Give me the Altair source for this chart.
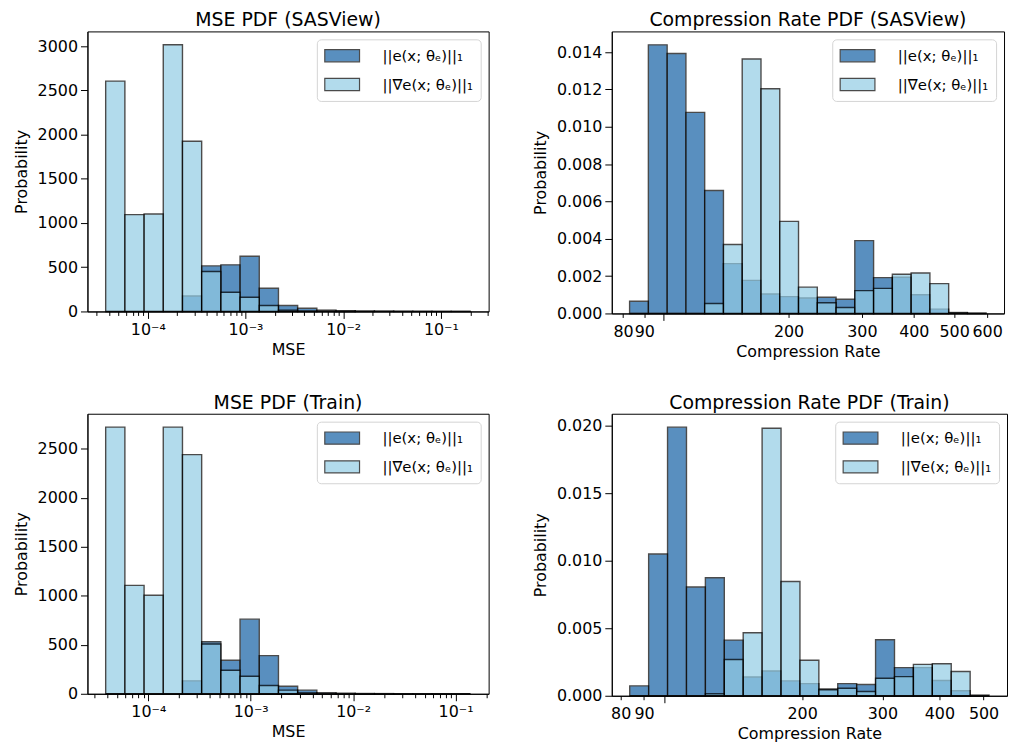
import altair as alt
import numpy as np
import pandas as pd

LAB_E = "||e(x; θₑ)||₁"
LAB_G = "||∇e(x; θₑ)||₁"
DARK = "#1460a5"
LIGHT = "#92cce5"
FONT = "DejaVu Sans"

# ---- data (19 log-spaced bins per panel) ----
# log10 of the first and last bin edge
mse_sas_range = (-4.431, -0.698)
mse_sas_e = [0, 0, 0, 0, 175, 515, 527, 624, 262, 67, 37, 15, 10, 5, 4, 3, 2, 1, 1]
mse_sas_g = [2604, 1095, 1102, 3015, 1924, 452, 217, 161, 67, 15, 6, 3, 2, 1, 1, 0, 0, 0, 0]

cr_sas_range = (1.919, 2.776)
cr_sas_e = [0.00065, 0.01439, 0.01393, 0.01077, 0.00659, 0.00267, 0.00177, 0.00104, 0.0009,
            0.00083, 0.00087, 0.00076, 0.0039, 0.00192, 0.00194, 0.001, 0.00023, 0.00005, 0.00002]
cr_sas_g = [0, 0, 0, 0, 0.00053, 0.00369, 0.01363, 0.01204, 0.00493, 0.00141, 0.00057, 0.00032,
            0.00122, 0.00134, 0.0021, 0.00217, 0.0016, 0.00003, 0]

mse_tr_range = (-4.416, -0.855)
mse_tr_e = [0, 0, 0, 0, 132, 531, 342, 761, 389, 77, 37, 10, 6, 3, 2, 1, 1, 1, 0]
mse_tr_g = [2720, 1106, 1005, 2720, 2439, 507, 240, 179, 84, 37, 10, 4, 2, 1, 0, 0, 0, 0, 0]

cr_tr_range = (1.923, 2.711)
cr_tr_e = [0.00073, 0.01049, 0.01988, 0.00805, 0.00873, 0.00412, 0.00139, 0.00183, 0.0011,
           0.0009, 0.0005, 0.0009, 0.00083, 0.00415, 0.00208, 0.00208, 0.00113, 0.00037, 0.00005]
cr_tr_g = [0, 0, 0, 0, 0.00015, 0.00268, 0.00466, 0.0198, 0.00846, 0.00263, 0.00045, 0.00056,
           0.00032, 0.0013, 0.00142, 0.00232, 0.00237, 0.0018, 0]

# ---- tick definitions ----
mse_major = [1e-4, 1e-3, 1e-2, 1e-1]
mse_major_labels = ["10⁻⁴", "10⁻³", "10⁻²", "10⁻¹"]
mse_minor = [m * 10.0 ** k for k in range(-5, 0) for m in range(2, 10)]

cr_major = [100]
cr_minor_sas = [80, 90, 200, 300, 400, 500, 600]
cr_minor_tr = [80, 90, 200, 300, 400, 500]

mse_sas_yticks = [0, 500, 1000, 1500, 2000, 2500, 3000]
mse_tr_yticks = [0, 500, 1000, 1500, 2000, 2500]
cr_sas_yticks = [0, 0.002, 0.004, 0.006, 0.008, 0.010, 0.012, 0.014]
cr_tr_yticks = [0, 0.005, 0.010, 0.015, 0.020]

# wide legend patch: path spans 4 x 1.4 units, drawn with sqrt(size) = 17.5 px per 2 units
LEGEND_PATH = "M-2,-0.7L2,-0.7L2,0.7L-2,0.7Z"


def label_expr(values, labels):
    expr = "''"
    for v, lab in zip(values[::-1], labels[::-1]):
        expr = f"abs(log(datum.value)/LN10 - ({np.log10(v):.4f})) < 0.01 ? '{lab}' : " + expr
    return expr


def panel(title, rng, e_vals, g_vals, yticks, yfmt, xtitle, major, major_labels,
          minor, minor_labeled, width, height):
    lo, hi = rng
    n = len(e_vals)
    edges = np.logspace(lo, hi, n + 1)
    rows = []
    for lab, vals in ((LAB_E, e_vals), (LAB_G, g_vals)):
        for i, v in enumerate(vals):
            rows.append({"x0": edges[i], "x1": edges[i + 1], "y": v, "series": lab})
    df = pd.DataFrame(rows)
    span = hi - lo
    xdom = [10 ** (lo - 0.05 * span), 10 ** (hi + 0.05 * span)]
    ymax = max(max(e_vals), max(g_vals)) * 1.05
    dlo, dhi = xdom
    minor_in = [m for m in minor if dlo <= m <= dhi]

    xscale = alt.Scale(type="log", domain=xdom, nice=False)
    yenc = alt.Y("y:Q", scale=alt.Scale(domain=[0, ymax], nice=False, zero=True),
                 stack=None,
                 axis=alt.Axis(values=yticks, format=yfmt, title="Probability",
                               tickSize=7, grid=False, titlePadding=8))

    if major_labels is not None:
        major_axis = alt.Axis(values=major, tickSize=7, grid=False, title=xtitle,
                              labelExpr=label_expr(major, major_labels),
                              labelOverlap=False, labelFlush=False, orient="bottom",
                              labelPadding=3, titlePadding=4)
        minor_axis = alt.Axis(values=minor_in, tickSize=4, grid=False, title=None,
                              labels=False, domain=False, orient="bottom")
    else:
        major_axis = alt.Axis(values=major, tickSize=7, grid=False, title=None,
                              labels=False, orient="bottom")
        minor_axis = alt.Axis(values=minor_in, tickSize=4, grid=False, title=xtitle,
                              format="d", labelOverlap=False, labelFlush=False,
                              labelPadding=6, domain=False, orient="bottom",
                              titlePadding=4)

    bars = alt.Chart(df).mark_bar(opacity=0.7, stroke="black", strokeWidth=1.4).encode(
        x=alt.X("x0:Q", scale=xscale, axis=major_axis),
        x2="x1:Q",
        y=yenc,
        y2=alt.datum(0),
        color=alt.Color("series:N",
                        scale=alt.Scale(domain=[LAB_E, LAB_G], range=[DARK, LIGHT]),
                        legend=alt.Legend(title=None, orient="top-right", offset=8,
                                          symbolType=LEGEND_PATH, symbolSize=306,
                                          symbolOffset=9,
                                          symbolStrokeColor="black", symbolStrokeWidth=1.2,
                                          symbolOpacity=0.7, labelFontSize=15,
                                          labelOffset=31, rowPadding=10, padding=7,
                                          fillColor="white", strokeColor="#d4d4d4",
                                          cornerRadius=4, labelFont=FONT,
                                          labelColor="black")),
    )
    ghost = alt.Chart(df).mark_bar(opacity=0).encode(
        x=alt.X("x0:Q", scale=xscale, axis=minor_axis),
        x2="x1:Q",
        y=yenc,
        y2=alt.datum(0),
    )
    return alt.layer(bars, ghost).resolve_axis(x="independent").properties(
        width=width, height=height,
        title=alt.TitleParams(title, fontSize=19, fontWeight="normal", font=FONT,
                              color="black", offset=1, anchor="middle"),
    )


p1 = panel("MSE PDF (SASView)", mse_sas_range, mse_sas_e, mse_sas_g, mse_sas_yticks, "d",
           "MSE", mse_major, mse_major_labels, mse_minor, False, 404, 282)
p2 = panel("Compression Rate PDF (SASView)", cr_sas_range, cr_sas_e, cr_sas_g, cr_sas_yticks,
           ".3f", "Compression Rate", cr_major, None, cr_minor_sas, True, 395, 284)
p3 = panel("MSE PDF (Train)", mse_tr_range, mse_tr_e, mse_tr_g, mse_tr_yticks, "d",
           "MSE", mse_major, mse_major_labels, mse_minor, False, 404, 282)
p4 = panel("Compression Rate PDF (Train)", cr_tr_range, cr_tr_e, cr_tr_g, cr_tr_yticks,
           ".3f", "Compression Rate", cr_major, None, cr_minor_tr, True, 398, 284)

row1 = alt.hconcat(p1, p2, spacing=42).resolve_scale(color="independent")
row2 = alt.hconcat(p3, p4, spacing=42).resolve_scale(color="independent")

chart = alt.vconcat(row1, row2, spacing=33).resolve_scale(color="independent").properties(
    padding={"left": 4, "top": 0, "right": 0, "bottom": 0},
    background="white",
).configure_view(stroke="black", strokeWidth=1).configure_axis(
    labelFont=FONT, titleFont=FONT, labelFontSize=16, titleFontSize=16,
    labelColor="black", titleColor="black", titleFontWeight="normal",
    domainColor="black", tickColor="black", domainWidth=1, tickWidth=1,
    labelPadding=3, titlePadding=6,
)

chart.save("out.html", embed_options={"renderer": "svg", "actions": False})
